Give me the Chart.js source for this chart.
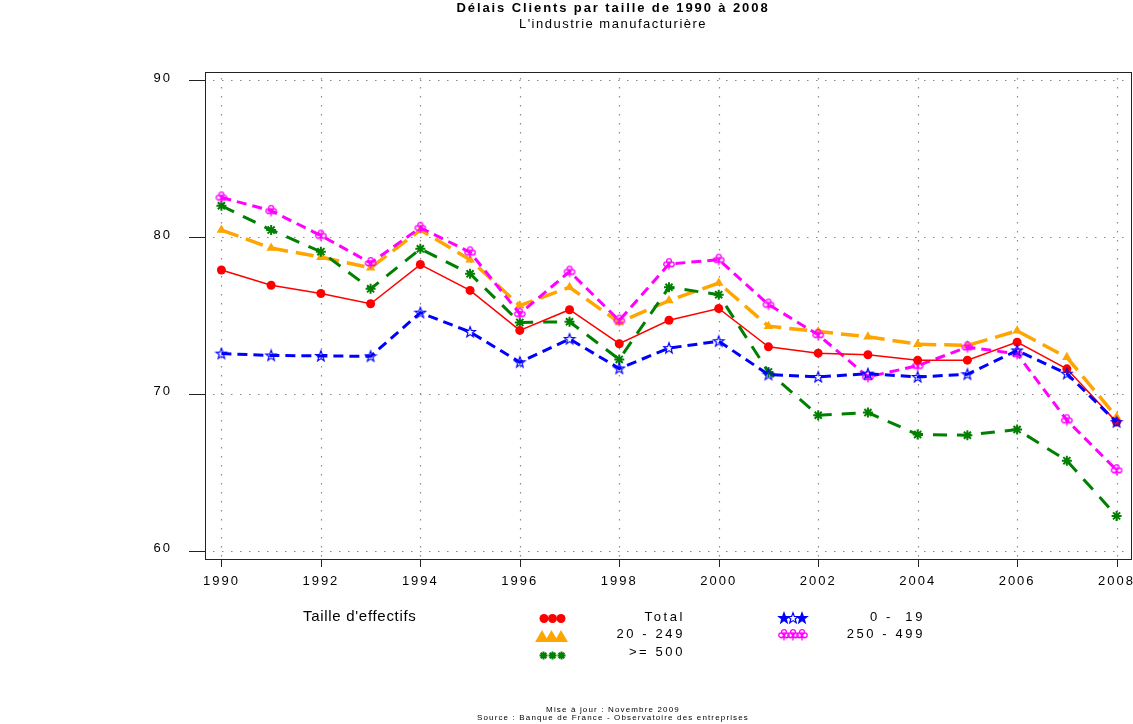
<!DOCTYPE html>
<html><head><meta charset="utf-8">
<script src="https://cdn.jsdelivr.net/npm/chart.js@4/dist/chart.umd.min.js"></script>
<style>
body{margin:0;background:#fff;}
#wrap{position:relative;width:1133px;height:724px;overflow:hidden;font-family:"Liberation Sans",Arial,sans-serif;color:#000;background:#fff;}
#c{position:absolute;left:0;top:0;}
.t{position:absolute;white-space:pre;line-height:1;}
.r{text-align:right;}
.ctr{left:0;width:1226px;text-align:center;}
</style></head><body>
<div id="wrap">
<canvas id="c" width="1133" height="724"></canvas>
<div class="t ctr" style="top:1px;font-size:13px;font-weight:bold;letter-spacing:1.9px">Délais Clients par taille de 1990 à 2008</div>
<div class="t ctr" style="top:17px;font-size:13px;letter-spacing:1.5px">L'industrie manufacturière</div>
<div class="t" style="left:303px;top:608px;font-size:15px;letter-spacing:0.7px">Taille d'effectifs</div>
<div class="t r" style="right:448px;top:610px;font-size:13px;letter-spacing:2.6px">Total</div>
<div class="t r" style="right:448px;top:627px;font-size:13px;letter-spacing:2.6px">20 - 249</div>
<div class="t r" style="right:448px;top:645px;font-size:13px;letter-spacing:2.6px">&gt;= 500</div>
<div class="t r" style="right:208px;top:610px;font-size:13px;letter-spacing:2.6px">0 -  19</div>
<div class="t r" style="right:208px;top:627px;font-size:13px;letter-spacing:2.6px">250 - 499</div>
<div class="t ctr" style="top:706px;font-size:8px;letter-spacing:1.15px">Mise à jour : Novembre 2009</div>
<div class="t ctr" style="top:714px;font-size:8px;letter-spacing:1.15px">Source : Banque de France - Observatoire des entreprises</div>
</div>
<script>
// ---- data ----
const years = [1990,1991,1992,1993,1994,1995,1996,1997,1998,1999,2000,2001,2002,2003,2004,2005,2006,2007,2008];
const xTickYears = [1990,1992,1994,1996,1998,2000,2002,2004,2006,2008];
const yTickValues = [60,70,80,90];
const seriesNames = ['Total','0 -  19','20 - 249','250 - 499','>= 500'];
const total    = [77.9,76.93,76.4,75.75,78.25,76.6,74.05,75.37,73.2,74.7,75.45,73.0,72.6,72.5,72.15,72.15,73.3,71.6,68.2];
const small019 = [72.57,72.45,72.42,72.4,75.18,73.95,72.02,73.5,71.62,72.92,73.36,71.23,71.08,71.29,71.08,71.25,72.77,71.29,68.2];
const mid20249 = [80.45,79.3,78.72,78.04,80.45,78.56,75.63,76.8,74.56,75.95,77.07,74.32,73.98,73.64,73.17,73.09,74.02,72.33,68.53];
const big250499= [82.53,81.68,80.1,78.35,80.6,79.03,75.11,77.8,74.68,78.28,78.56,75.7,73.77,71.08,71.8,72.98,72.56,68.32,65.14];
const xl500    = [82.0,80.45,79.07,76.7,79.25,77.66,74.56,74.6,72.2,76.8,76.33,71.4,68.64,68.81,67.41,67.37,67.73,65.74,62.22];

// ---- marker images ----
function starImg(color, filled){
  const c=document.createElement('canvas'); c.width=14; c.height=14;
  const g=c.getContext('2d'); g.beginPath();
  for(let i=0;i<10;i++){const r=i%2?2.3:5.5; const a=-Math.PI/2+i*Math.PI/5;
    const px=7+r*Math.cos(a), py=7.3+r*Math.sin(a); i?g.lineTo(px,py):g.moveTo(px,py);}
  g.closePath(); g.lineWidth=1.2; g.strokeStyle=color; g.fillStyle=color;
  if(filled) g.fill(); g.stroke(); return c;
}
function clubImg(color){
  const c=document.createElement('canvas'); c.width=14; c.height=14;
  const g=c.getContext('2d'); g.strokeStyle=color; g.lineWidth=1.3;
  [[7,4],[4.2,7.2],[9.8,7.2]].forEach(([x,y])=>{g.beginPath();g.arc(x,y,2.4,0,Math.PI*2);g.stroke();});
  g.beginPath(); g.moveTo(7,4); g.lineTo(7,12.5); g.moveTo(3,9.5); g.lineTo(11,9.5); g.stroke();
  return c;
}
const blueStar = starImg('#0000ff', false);
const blueStarF = starImg('#0000ff', true);
const magClub = clubImg('#ff00ff');

const pts = arr => years.map((y,i)=>({x:y, y:arr[i]}));

const datasets = [
  {label:seriesNames[1], data:pts(small019), borderColor:'#0000ff', backgroundColor:'#0000ff', borderWidth:3, borderDash:[10,6], pointStyle:blueStar, pointRadius:6},
  {label:seriesNames[0], data:pts(total), borderColor:'#ff0000', backgroundColor:'#ff0000', borderWidth:1.5, pointStyle:'circle', pointRadius:4.5, pointBorderWidth:0},
  {label:seriesNames[3], data:pts(big250499), borderColor:'#ff00ff', backgroundColor:'#ff00ff', borderWidth:3, borderDash:[10,6], pointStyle:magClub, pointRadius:6},
  {label:seriesNames[4], data:pts(xl500), borderColor:'#008000', backgroundColor:'#008000', borderWidth:3, borderDash:[14,10], pointStyle:'star', pointRadius:5, pointBorderWidth:2},
  {label:seriesNames[2], data:pts(mid20249), borderColor:'#ffa500', backgroundColor:'#ffa500', borderWidth:3.5, borderDash:[18,8], pointStyle:'triangle', pointRadius:5.5, pointBorderWidth:0}
];

const framePlugin = {
  id:'frame',
  beforeDraw(chart){ chart.ctx.letterSpacing = '2px'; },
  beforeDatasetsDraw(chart){
    const {ctx, chartArea:a, scales:{x,y}} = chart;
    ctx.save();
    ctx.letterSpacing='0px';
    ctx.strokeStyle='#8a8a8a'; ctx.lineWidth=1.2; ctx.setLineDash([1.5,7.5]);
    xTickYears.forEach(v=>{const px=Math.round(x.getPixelForValue(v))+0.5;
      ctx.beginPath(); ctx.moveTo(px,a.top+6); ctx.lineTo(px,a.bottom); ctx.stroke();});
    yTickValues.forEach(v=>{const py=Math.round(y.getPixelForValue(v))+0.5;
      ctx.beginPath(); ctx.moveTo(a.left+8,py); ctx.lineTo(a.right,py); ctx.stroke();});
    ctx.setLineDash([]); ctx.strokeStyle='#222'; ctx.lineWidth=1;
    ctx.strokeRect(a.left+0.5,a.top+0.5,a.right-a.left-1,a.bottom-a.top);
    ctx.beginPath();
    yTickValues.forEach(v=>{const py=Math.round(y.getPixelForValue(v))+0.5; ctx.moveTo(a.left-16,py); ctx.lineTo(a.left,py);});
    xTickYears.forEach(v=>{const px=Math.round(x.getPixelForValue(v))+0.5; ctx.moveTo(px,a.bottom); ctx.lineTo(px,a.bottom+8);});
    ctx.stroke();
    ctx.restore();
  },
  afterDraw(chart){
    const ctx=chart.ctx; const H=Chart.helpers;
    ctx.save(); ctx.setLineDash([]);
    const draw=(style,color,r,bw,xs,yy,imgs)=>{
      xs.forEach((xx,i)=>{ctx.fillStyle=color; ctx.strokeStyle=color; ctx.lineWidth=bw;
        H.drawPoint(ctx,{pointStyle: imgs?imgs[i]:style, radius:r, borderWidth:bw, rotation:0}, xx, yy);});
    };
    draw('circle','#ff0000',4.5,0,[544,552.5,561],618.5);
    draw('triangle','#ffa500',8,0,[542,551.5,561],638);
    draw('star','#008000',4,2,[543.5,552.5,561.5],655.5);
    draw(null,'#0000ff',6,1,[784,793,802],618,[blueStarF,blueStar,blueStarF]);
    draw(null,'#ff00ff',6,1,[784,793,802],635,[magClub,magClub,magClub]);
    ctx.restore();
  }
};

new Chart(document.getElementById('c'), {
  type:'line',
  data:{datasets},
  options:{
    responsive:false, animation:false, events:[], devicePixelRatio:1,
    layout:{autoPadding:false, padding:{left:0,top:72,right:1,bottom:0}},
    elements:{line:{tension:0}},
    plugins:{legend:{display:false}, title:{display:false}, tooltip:{enabled:false}},
    scales:{
      x:{type:'linear', min:1989.67, max:2008.31,
        afterBuildTicks:s=>{s.ticks=xTickYears.map(v=>({value:v}));},
        afterFit:s=>{s.height=165; s.paddingLeft=0; s.paddingRight=0;},
        grid:{display:false, drawTicks:false}, border:{display:false},
        ticks:{color:'#000', font:{family:'"Liberation Sans", Arial, sans-serif', size:13}, padding:15, maxRotation:0, autoSkip:false, callback:v=>String(v)}},
      y:{type:'linear', min:59.47, max:90.53,
        afterBuildTicks:s=>{s.ticks=yTickValues.map(v=>({value:v}));},
        afterFit:s=>{s.width=205; s.paddingTop=0; s.paddingBottom=0;},
        grid:{display:false, drawTicks:false}, border:{display:false},
        ticks:{color:'#000', font:{family:'"Liberation Sans", Arial, sans-serif', size:13}, padding:33, labelOffset:-2, callback:v=>String(v)}}
    }
  },
  plugins:[framePlugin]
});
</script>
</body></html>
